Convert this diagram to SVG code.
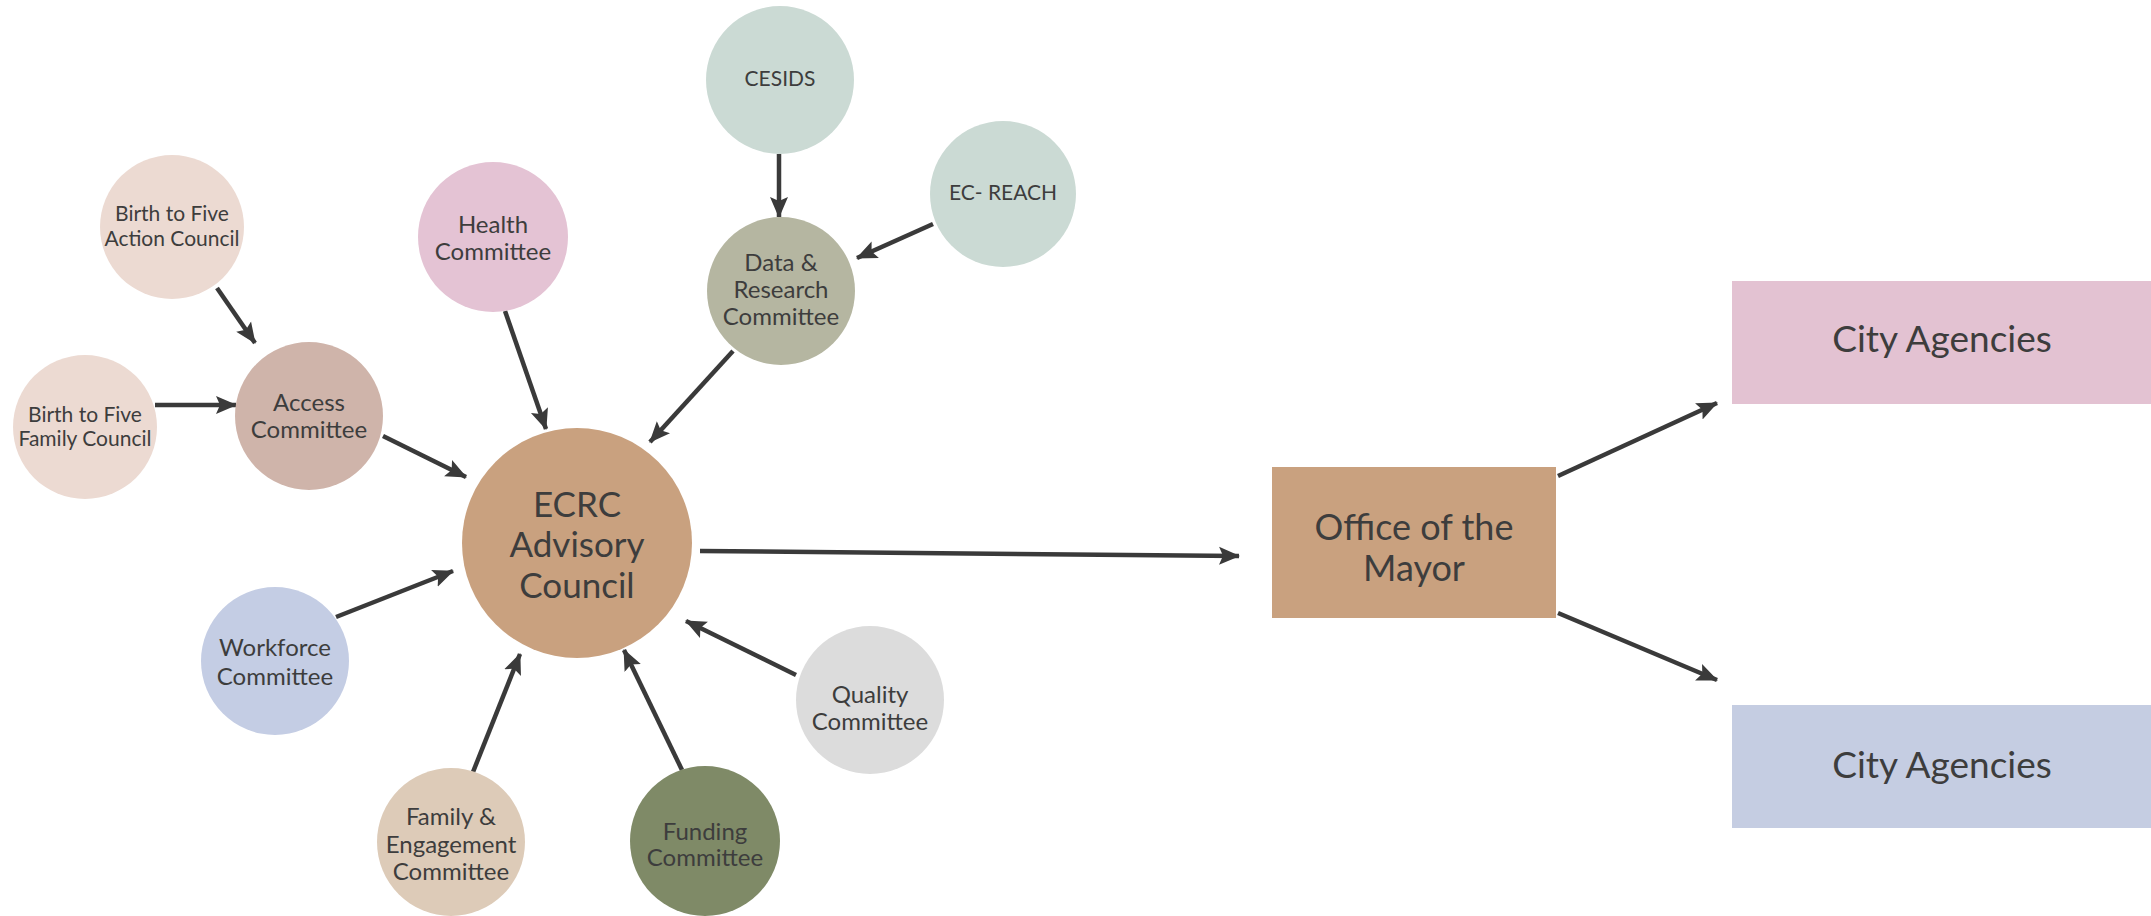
<svg xmlns="http://www.w3.org/2000/svg" width="2151" height="916" viewBox="0 0 2151 916">
<defs>
<marker id="ah" markerUnits="userSpaceOnUse" markerWidth="24" markerHeight="20" refX="20" refY="10" orient="auto" viewBox="0 0 24 20">
<path d="M0,1 L21,10 L0,19 L4,10 z" fill="#3a3a3a"/>
</marker>
<style>
.t{font-family:"Lato","Open Sans","Liberation Sans",sans-serif;fill:#3d3d3d;text-anchor:middle}
.s{font-size:21px}
.m{font-size:24px}
.c line{stroke:#3a3a3a;stroke-width:4.5;marker-end:url(#ah)}
</style>
</defs>
<rect width="2151" height="916" fill="#ffffff"/>
<g class="c" id="connectors">
<line x1="217" y1="288" x2="255" y2="343"/>
<line x1="155" y1="405" x2="236" y2="405"/>
<line x1="383" y1="436" x2="466" y2="477"/>
<line x1="505" y1="311" x2="546" y2="429"/>
<line x1="733" y1="351" x2="650" y2="442"/>
<line x1="779" y1="154" x2="779" y2="217"/>
<line x1="933" y1="224" x2="857" y2="258"/>
<line x1="336" y1="617" x2="453" y2="571"/>
<line x1="473" y1="772" x2="520" y2="654"/>
<line x1="682" y1="770" x2="624" y2="650"/>
<line x1="796" y1="675" x2="686" y2="621"/>
<line x1="700" y1="551" x2="1239" y2="556"/>
<line x1="1558" y1="476" x2="1717" y2="403"/>
<line x1="1558" y1="613" x2="1717" y2="680"/>
</g>
<g id="birth-action"><circle cx="172" cy="227" r="72" fill="#ecdad2"/><text class="t s" x="172" y="221">Birth to Five</text><text class="t s" x="172" y="246">Action Council</text></g>
<g id="birth-family"><circle cx="85" cy="427" r="72" fill="#ecdad2"/><text class="t s" x="85" y="422">Birth to Five</text><text class="t s" x="85" y="446">Family Council</text></g>
<g id="access"><circle cx="309" cy="416" r="74" fill="#cfb4aa"/><text class="t m" x="309" y="411">Access</text><text class="t m" x="309" y="438">Committee</text></g>
<g id="health"><circle cx="493" cy="237" r="75" fill="#e4c3d4"/><text class="t m" x="493" y="233">Health</text><text class="t m" x="493" y="260">Committee</text></g>
<g id="cesids"><circle cx="780" cy="80" r="74" fill="#cbdad4"/><text class="t s" x="780" y="86">CESIDS</text></g>
<g id="ecreach"><circle cx="1003" cy="194" r="73" fill="#cbdad4"/><text class="t s" x="1003" y="200">EC- REACH</text></g>
<g id="data"><circle cx="781" cy="291" r="74" fill="#b5b6a1"/><text class="t m" x="781" y="271">Data &amp;</text><text class="t m" x="781" y="298">Research</text><text class="t m" x="781" y="325">Committee</text></g>
<g id="ecrc"><circle cx="577" cy="543" r="115" fill="#c9a17f"/><text class="t" style="font-size:35px" x="577" y="517">ECRC</text><text class="t" style="font-size:35px" x="577" y="557">Advisory</text><text class="t" style="font-size:35px" x="577" y="598">Council</text></g>
<g id="workforce"><circle cx="275" cy="661" r="74" fill="#c4cde4"/><text class="t m" x="275" y="656">Workforce</text><text class="t m" x="275" y="685">Committee</text></g>
<g id="family"><circle cx="451" cy="842" r="74" fill="#ddcbb8"/><text class="t m" x="451" y="825">Family &amp;</text><text class="t m" x="451" y="853">Engagement</text><text class="t m" x="451" y="880">Committee</text></g>
<g id="funding"><circle cx="705" cy="841" r="75" fill="#7f8a67"/><text class="t m" x="705" y="840">Funding</text><text class="t m" x="705" y="866">Committee</text></g>
<g id="quality"><circle cx="870" cy="700" r="74" fill="#dcdcdc"/><text class="t m" x="870" y="703">Quality</text><text class="t m" x="870" y="730">Committee</text></g>
<g id="mayor"><rect x="1272" y="467" width="284" height="151" fill="#c9a17f"/><text class="t" style="font-size:36px" x="1414" y="540">Office of the</text><text class="t" style="font-size:36px" x="1414" y="581">Mayor</text></g>
<g id="city1"><rect x="1732" y="281" width="419" height="123" fill="#e3c2d2"/><text class="t" style="font-size:37px" x="1942" y="352">City Agencies</text></g>
<g id="city2"><rect x="1732" y="705" width="419" height="123" fill="#c5cde2"/><text class="t" style="font-size:37px" x="1942" y="778">City Agencies</text></g>
</svg>
